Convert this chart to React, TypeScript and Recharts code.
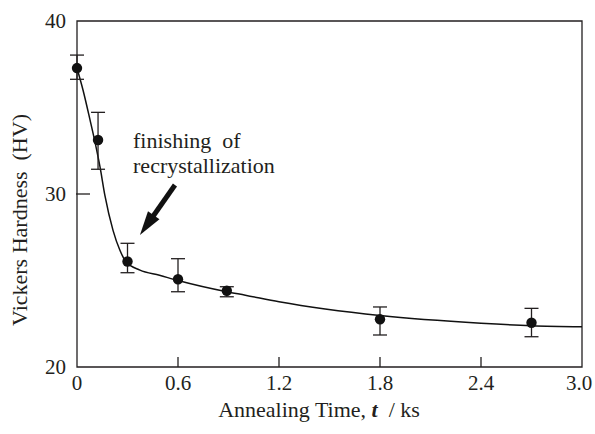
import {
  ComposedChart,
  Line,
  Scatter,
  ErrorBar,
  XAxis,
  YAxis,
  ReferenceArea,
  ReferenceLine,
  ReferenceDot,
  Label,
} from "recharts";

const time = [0, 0.125, 0.3, 0.6, 0.89, 1.8, 2.7];
const hardness = [37.28, 33.12, 26.1, 25.07, 24.41, 22.76, 22.56];
const errorTop = [38.03, 34.72, 27.15, 26.26, 24.64, 23.47, 23.39];
const errorBottom = [36.63, 31.43, 25.45, 24.35, 24.06, 21.85, 21.75];

// fitted curve
const fitTime = [0, 0.036, 0.077, 0.107, 0.137, 0.166, 0.214, 0.255, 0.291, 0.374, 0.49, 0.6, 0.89, 1.0, 1.2, 1.8, 2.4, 2.7, 3.0];
const fitHardness = [37.27, 36.0, 34.3, 33.0, 31.55, 29.9, 27.9, 26.75, 26.08, 25.6, 25.3, 25.0, 24.35, 24.15, 23.77, 22.97, 22.53, 22.39, 22.33];

const xTicks = [0, 0.6, 1.2, 1.8, 2.4, 3.0];
const xTickLabels = ["0", "0.6", "1.2", "1.8", "2.4", "3.0"];
const yTicks = [20, 30, 40];

const annotationLines = ["finishing  of", "recrystallization"];
const annotationAt = { t: 0.333, hv: 32.66 };
const arrowFrom = { t: 0.582, hv: 30.52 };
const arrowTo = { t: 0.374, hv: 27.63 };

const INK = "#231f20";
const FONT = "Liberation Serif, DejaVu Serif, Times, serif";
const FS = 22;
const TICK_FS = 21;

const points = time.map((t, i) => ({
  t,
  hv: hardness[i],
  err: [hardness[i] - errorBottom[i], errorTop[i] - hardness[i]],
}));
const fit = fitTime.map((t, i) => ({ t, fit: fitHardness[i] }));

function XTick(props: any) {
  const { x, y, payload } = props;
  const i = xTicks.indexOf(payload.value);
  const edge = i === 0 || i === xTicks.length - 1;
  const shift = i === xTicks.length - 1 ? -3 : 0;
  return (
    <g>
      {!edge && <line x1={x} y1={y} x2={x} y2={y - 10} stroke={INK} strokeWidth={1.3} />}
      <text x={x + shift} y={y + 23} textAnchor="middle" fill={INK} style={{ fontSize: TICK_FS, fontFamily: FONT }}>
        {xTickLabels[i] ?? payload.value}
      </text>
    </g>
  );
}

function YTick(props: any) {
  const { x, y, payload } = props;
  const edge = payload.value === 20 || payload.value === 40;
  return (
    <g>
      {!edge && <line x1={x - 1} y1={y} x2={x + 13} y2={y} stroke={INK} strokeWidth={1.3} />}
      <text x={x - 11} y={y + 7} textAnchor="end" fill={INK} style={{ fontSize: TICK_FS, fontFamily: FONT }}>
        {payload.value}
      </text>
    </g>
  );
}

function Dot(props: any) {
  return <circle cx={props.cx} cy={props.cy} r={5.2} fill="#111" />;
}

function Arrow(props: any) {
  const { x1, y1, x2, y2 } = props;
  const dx = x2 - x1;
  const dy = y2 - y1;
  const len = Math.sqrt(dx * dx + dy * dy);
  const ux = dx / len;
  const uy = dy / len;
  const head = 24;
  const half = 7;
  const bx = x2 - ux * head;
  const by = y2 - uy * head;
  return (
    <g>
      <line x1={x1} y1={y1} x2={bx + ux * 2} y2={by + uy * 2} stroke="#111" strokeWidth={5} />
      <polygon
        points={`${x2},${y2} ${bx - uy * half},${by + ux * half} ${bx + uy * half},${by - ux * half}`}
        fill="#111"
      />
    </g>
  );
}

function Annotation(props: any) {
  return (
    <text x={props.cx} y={props.cy} fill={INK} style={{ fontSize: FS, fontFamily: FONT, whiteSpace: "pre" }}>
      <tspan x={props.cx} dy={0}>{annotationLines[0]}</tspan>
      <tspan x={props.cx} dy={25}>{annotationLines[1]}</tspan>
    </text>
  );
}

export default function App() {
  return (
    <div style={{ position: "absolute", left: 0, top: 0, width: 595, height: 434, background: "#fff" }}>
      <ComposedChart width={595} height={434} margin={{ top: 21, right: 13, bottom: 0, left: 0 }}>
        <XAxis
          dataKey="t"
          type="number"
          domain={[0, 3]}
          ticks={xTicks}
          axisLine={false}
          tickLine={false}
          tickSize={0}
          tickMargin={0}
          height={67}
          tick={<XTick />}
          interval={0}
        >
          <Label
            content={(p: any) => {
              const vb = p.viewBox;
              return (
                <text
                  x={vb.x + 242}
                  y={vb.y + 50}
                  textAnchor="middle"
                  fill={INK}
                  style={{ fontSize: FS, fontFamily: FONT, whiteSpace: "pre" }}
                >
                  {"Annealing Time, "}
                  <tspan fontWeight="bold" fontStyle="italic">t</tspan>
                  {"  / ks"}
                </text>
              );
            }}
          />
        </XAxis>
        <YAxis
          type="number"
          domain={[20, 40]}
          ticks={yTicks}
          axisLine={false}
          tickLine={false}
          tickSize={0}
          tickMargin={0}
          width={77}
          tick={<YTick />}
          interval={0}
        >
          <Label
            content={(p: any) => {
              const vb = p.viewBox;
              const cx = 27;
              const cy = vb.y + 199;
              return (
                <text
                  x={cx}
                  y={cy}
                  transform={`rotate(-90 ${cx} ${cy})`}
                  textAnchor="middle"
                  fill={INK}
                  style={{ fontSize: FS, fontFamily: FONT, whiteSpace: "pre" }}
                >
                  Vickers Hardness  (HV)
                </text>
              );
            }}
          />
        </YAxis>
        <ReferenceArea x1={0} x2={3} y1={20} y2={40} fill="none" stroke={INK} strokeWidth={1.3} fillOpacity={0} />
        <Line
          data={fit}
          dataKey="fit"
          type="monotone"
          stroke="#111"
          strokeWidth={1.5}
          dot={false}
          activeDot={false}
          isAnimationActive={false}
        />
        <Scatter data={points} dataKey="hv" shape={<Dot />} isAnimationActive={false}>
          <ErrorBar dataKey="err" direction="y" width={7} stroke={INK} strokeWidth={1.3} />
        </Scatter>
        <ReferenceLine
          segment={[
            { x: arrowFrom.t, y: arrowFrom.hv },
            { x: arrowTo.t, y: arrowTo.hv },
          ]}
          shape={<Arrow />}
        />
        <ReferenceDot x={annotationAt.t} y={annotationAt.hv} shape={<Annotation />} />
      </ComposedChart>
    </div>
  );
}
